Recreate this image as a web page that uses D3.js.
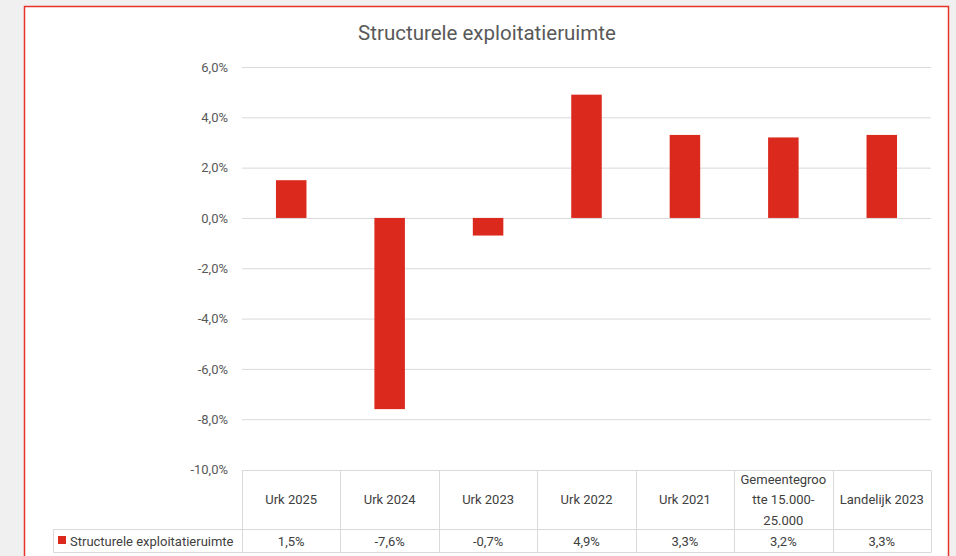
<!DOCTYPE html>
<html>
<head>
<meta charset="utf-8">
<script src="https://cdn.jsdelivr.net/npm/d3@7"></script>
<style>
  html, body { margin: 0; padding: 0; background: #f0f0f0; }
  svg { display: block; }
  text { font-family: Roboto, "Liberation Sans", sans-serif; }
</style>
</head>
<body>
<svg width="956" height="556"></svg>
<script>
const categories = ['Urk 2025', 'Urk 2024', 'Urk 2023', 'Urk 2022', 'Urk 2021', 'Gemeentegroo|tte 15.000-|25.000', 'Landelijk 2023'];
const values = [1.5, -7.6, -0.7, 4.9, 3.3, 3.2, 3.3];
const valueLabels = ['1,5%', '-7,6%', '-0,7%', '4,9%', '3,3%', '3,2%', '3,3%'];
const yTicks = [6, 4, 2, 0, -2, -4, -6, -8, -10];
const seriesName = 'Structurele exploitatieruimte';
const title = 'Structurele exploitatieruimte';

const margins = { left: 242, right: 25, top: 67, bottom: 86 };
const W = 956, H = 556;
const barColor = '#db291d';
const gridColor = '#d9d9d9';

const svg = d3.select('svg');

// chart box with red border
svg.append('rect')
    .attr('x', 24.5).attr('y', 6.5)
    .attr('width', 924).attr('height', 560)
    .attr('fill', '#fff')
    .attr('stroke', '#e8332b')
    .attr('stroke-width', 1.5);

svg.append('text')
    .attr('x', 487).attr('y', 40)
    .attr('text-anchor', 'middle')
    .attr('font-size', 20.5)
    .attr('fill', '#595959')
    .text(title);

// scales
const xScale = d3.scaleBand()
    .domain(categories)
    .range([margins.left, W - margins.right])
    .padding(0);

const yScale = d3.scaleLinear()
    .domain([-10, 6])
    .range([469.5, 67]);

// grid lines + labels
const yAxis = d3.axisLeft(yScale)
    .tickValues(yTicks)
    .tickSize(-(xScale.range()[1] - xScale.range()[0]))
    .tickPadding(14)
    .tickFormat((d) => d.toFixed(1).replace('.', ',') + '%');

const yG = svg.append('g')
    .attr('transform', `translate(${margins.left},0)`)
    .call(yAxis);
yG.select('.domain').remove();
yG.selectAll('.tick line').attr('stroke', gridColor).attr('stroke-width', 1);
yG.selectAll('.tick text')
    .attr('fill', '#595959')
    .attr('font-size', 13)
    .attr('font-family', 'Roboto, "Liberation Sans", sans-serif');
yG.selectAll('.tick').filter((d) => d === -10).select('line').remove();

// bars
const barW = xScale.bandwidth() * 0.31;
svg.append('g')
    .selectAll('rect')
    .data(values)
    .enter()
    .append('rect')
    .attr('x', (d, i) => xScale(categories[i]) + (xScale.bandwidth() - barW) / 2)
    .attr('y', (d) => yScale(Math.max(0, d)))
    .attr('width', barW)
    .attr('height', (d) => Math.abs(yScale(d) - yScale(0)))
    .attr('fill', barColor);

// data table
const tableTop = 470.5, headerBottom = 529.5, tableBottom = 552.5;
const tbl = svg.append('g')
    .attr('stroke', gridColor)
    .attr('stroke-width', 1)
    .attr('fill', 'none');
const x0 = xScale.range()[0], x1 = xScale.range()[1];
tbl.append('line').attr('x1', x0).attr('x2', x1).attr('y1', tableTop).attr('y2', tableTop);
tbl.append('line').attr('x1', 53.5).attr('x2', x1).attr('y1', headerBottom).attr('y2', headerBottom);
tbl.append('line').attr('x1', 53.5).attr('x2', x1).attr('y1', tableBottom).attr('y2', tableBottom);
tbl.append('line').attr('x1', 53.5).attr('x2', 53.5).attr('y1', headerBottom).attr('y2', tableBottom);
const edges = categories.map((c) => xScale(c)).concat([x1]);
tbl.selectAll('.vline')
    .data(edges)
    .enter()
    .append('line')
    .attr('x1', (d) => Math.round(d) + 0.5)
    .attr('x2', (d) => Math.round(d) + 0.5)
    .attr('y1', tableTop)
    .attr('y2', tableBottom);

// header labels
const headG = svg.append('g');
categories.forEach((c, i) => {
    const lines = c.split('|');
    const cx = xScale(c) + xScale.bandwidth() / 2;
    const midY = (tableTop + headerBottom) / 2;
    const lh = 20.5;
    const t = headG.append('text')
        .attr('text-anchor', 'middle')
        .attr('font-size', 13)
        .attr('fill', '#404040');
    lines.forEach((l, j) => {
        t.append('tspan')
            .attr('x', cx)
            .attr('y', midY + 4 + (j - (lines.length - 1) / 2) * lh)
            .text(l);
    });
});

// value row
svg.append('g')
    .selectAll('text')
    .data(valueLabels)
    .enter()
    .append('text')
    .attr('x', (d, i) => xScale(categories[i]) + xScale.bandwidth() / 2)
    .attr('y', (tableBottom + headerBottom) / 2 + 4.5)
    .attr('text-anchor', 'middle')
    .attr('font-size', 13)
    .attr('fill', '#404040')
    .text((d) => d);

// legend key
svg.append('rect')
    .attr('x', 58).attr('y', 536)
    .attr('width', 8).attr('height', 8)
    .attr('fill', barColor);
svg.append('text')
    .attr('x', 70).attr('y', (tableBottom + headerBottom) / 2 + 4.5)
    .attr('font-size', 13)
    .attr('fill', '#404040')
    .text(seriesName);
</script>
</body>
</html>
